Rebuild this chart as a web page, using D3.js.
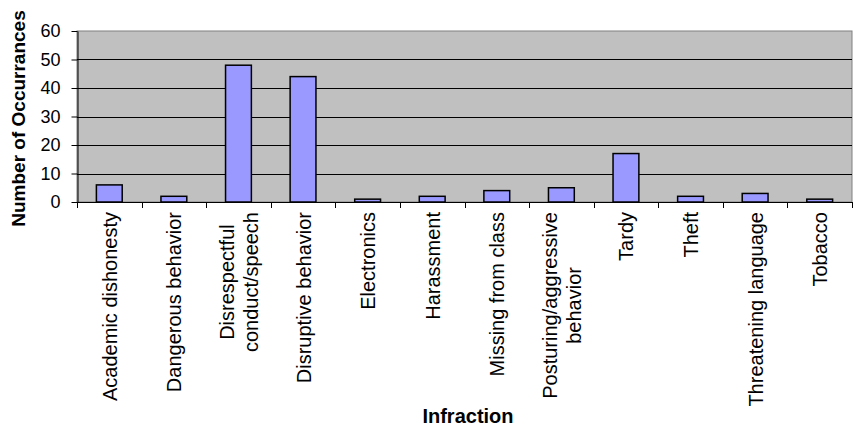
<!DOCTYPE html>
<html>
<head>
<meta charset="utf-8">
<script src="https://cdn.jsdelivr.net/npm/d3@7"></script>
<style>
  html, body { margin: 0; padding: 0; background: #fff; }
  svg { display: block; font-family: "Liberation Sans", Arial, sans-serif; }
</style>
</head>
<body>
<svg id="chart" width="853" height="428"></svg>
<script>
// Infraction counts; "\n" marks where a category label wraps
const categories = [
  "Academic dishonesty",
  "Dangerous behavior",
  "Disrespectful\nconduct/speech",
  "Disruptive behavior",
  "Electronics",
  "Harassment",
  "Missing from class",
  "Posturing/aggressive\nbehavior",
  "Tardy",
  "Theft",
  "Threatening language",
  "Tobacco"
];
const occurrences = [6, 2, 48, 44, 1, 2, 4, 5, 17, 2, 3, 1];
const yTicks = [0, 10, 20, 30, 40, 50, 60];

const plot = { left: 77, right: 852, top: 31, bottom: 202 };

const svg = d3.select("#chart");

const x = d3.scaleBand()
  .domain(categories)
  .range([plot.left, plot.right])
  .paddingInner(0)
  .paddingOuter(0);

const y = d3.scaleLinear()
  .domain([0, 60])
  .range([plot.bottom, plot.top]);

// plot area background with thin grey frame
svg.append("rect")
  .attr("x", plot.left)
  .attr("y", plot.top)
  .attr("width", plot.right - plot.left)
  .attr("height", plot.bottom - plot.top)
  .attr("fill", "#C0C0C0")
  .attr("stroke", "#808080")
  .attr("stroke-width", 1);

// horizontal gridlines
svg.append("g")
  .selectAll("line")
  .data(yTicks.filter(d => d > 0 && d < 60))
  .join("line")
  .attr("x1", plot.left)
  .attr("x2", plot.right)
  .attr("y1", d => Math.round(y(d)) + 0.5)
  .attr("y2", d => Math.round(y(d)) + 0.5)
  .attr("stroke", "#000")
  .attr("stroke-width", 1);

// bars
const barW = x.bandwidth() * 0.4;
svg.append("g")
  .selectAll("rect")
  .data(categories)
  .join("rect")
  .attr("x", d => x(d) + (x.bandwidth() - barW) / 2)
  .attr("y", (d, i) => y(occurrences[i]))
  .attr("width", barW)
  .attr("height", (d, i) => y(0) - y(occurrences[i]))
  .attr("fill", "#9999FF")
  .attr("stroke", "#000")
  .attr("stroke-width", 1.5);

// y axis
const yAxis = svg.append("g")
  .attr("transform", `translate(${plot.left + 0.5},0)`)
  .call(d3.axisLeft(y).tickValues(yTicks).tickSize(6).tickPadding(11).tickSizeOuter(0));
yAxis.select(".domain").attr("stroke", "#000");
yAxis.selectAll(".tick line").attr("stroke", "#000");
yAxis.selectAll(".tick text")
  .attr("font-size", 18)
  .attr("font-family", "'Liberation Sans', Arial, sans-serif")
  .attr("fill", "#000");

// x axis line with ticks on category boundaries
const boundaries = categories.map(d => x(d)).concat([plot.right]);
const xAxis = svg.append("g");
xAxis.append("line")
  .attr("x1", plot.left)
  .attr("x2", plot.right)
  .attr("y1", plot.bottom + 0.5)
  .attr("y2", plot.bottom + 0.5)
  .attr("stroke", "#000")
  .attr("stroke-width", 1);
xAxis.selectAll("line.tick")
  .data(boundaries)
  .join("line")
  .attr("class", "tick")
  .attr("x1", d => Math.round(d) + 0.5)
  .attr("x2", d => Math.round(d) + 0.5)
  .attr("y1", plot.bottom)
  .attr("y2", plot.bottom + 6)
  .attr("stroke", "#000");

// rotated category labels, wrapped lines centred on each other
const labelTop = 212;
const linePitch = 24;
const labels = svg.append("g")
  .attr("font-size", 20)
  .attr("fill", "#000");
categories.forEach(cat => {
  const lines = cat.split("\n");
  const cx = x(cat) + x.bandwidth() / 2;
  const g = labels.append("g");
  const texts = lines.map((ln, k) => g.append("text").text(ln));
  const maxLen = d3.max(texts, t => t.node().getComputedTextLength());
  const midY = labelTop + maxLen / 2;
  texts.forEach((t, k) => {
    const bx = cx + 7.5 - (lines.length - 1) * linePitch / 2 + k * linePitch;
    t.attr("text-anchor", "middle")
     .attr("transform", `translate(${bx},${midY}) rotate(-90)`);
  });
});

// axis titles
svg.append("text")
  .attr("transform", "translate(25,118.5) rotate(-90)")
  .attr("text-anchor", "middle")
  .attr("font-size", 19)
  .attr("font-weight", "bold")
  .text("Number of Occurrances");

svg.append("text")
  .attr("x", 468)
  .attr("y", 423)
  .attr("text-anchor", "middle")
  .attr("font-size", 20)
  .attr("font-weight", "bold")
  .text("Infraction");
</script>
</body>
</html>
